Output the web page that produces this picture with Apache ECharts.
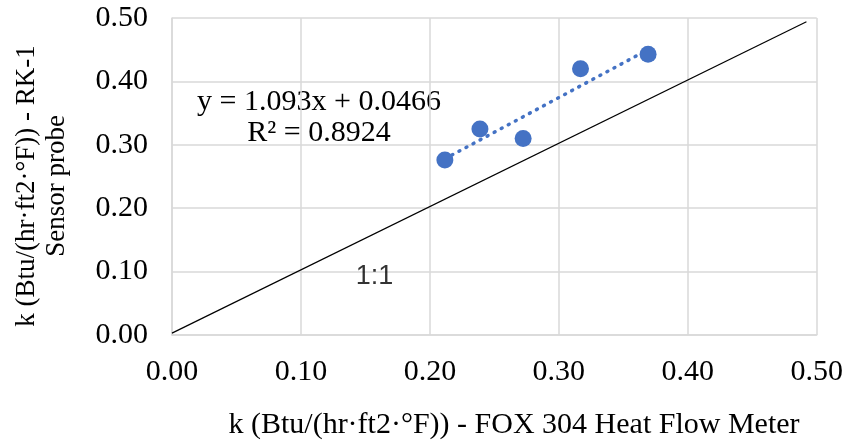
<!DOCTYPE html>
<html><head><meta charset="utf-8">
<script src="https://cdn.jsdelivr.net/npm/echarts@6/dist/echarts.min.js"></script>
<style>html,body{margin:0;padding:0;background:#fff}#c{width:846px;height:444px}</style>
</head><body><div id="c"></div>
<script>
const xValues = [0.2116, 0.2388, 0.2723, 0.3168, 0.3692];
const yValues = [0.276, 0.325, 0.310, 0.420, 0.443];
const oneToOne = [[0, 0.003], [0.492, 0.494]];
const slope = 1.093, intercept = 0.0466;
const equationText = 'y = 1.093x + 0.0466';
const r2Text = 'R² = 0.8924';
const xTitle = 'k (Btu/(hr·ft2·°F)) - FOX 304 Heat Flow Meter';
const yTitle1 = 'k (Btu/(hr·ft2·°F)) - RK-1';
const yTitle2 = 'Sensor probe';
const oneLabel = '1:1';
const oneLabelPos = [0.157, 0.0915];

const pts = xValues.map((x, i) => [x, yValues[i]]);
const xmin = Math.min(...xValues), xmax = Math.max(...xValues);
const trend = [[xmin, slope * xmin + intercept], [xmax, slope * xmax + intercept]];

const serif = '"Liberation Serif", "Times New Roman", serif';
const chart = echarts.init(document.getElementById('c'));
chart.setOption({
  animation: false,
  grid: {left: 172, top: 18, right: 29, bottom: 109},
  xAxis: {type: 'value', min: 0, max: 0.5, interval: 0.1,
    axisLine: {show: true, lineStyle: {color: '#d9d9d9', width: 1.5}},
    axisTick: {show: false},
    splitLine: {show: true, lineStyle: {color: '#d9d9d9', width: 1.5}},
    axisLabel: {formatter: v => v.toFixed(2), color: '#000', fontFamily: serif, fontSize: 30, margin: 22}},
  yAxis: {type: 'value', min: 0, max: 0.5, interval: 0.1,
    axisLine: {show: true, lineStyle: {color: '#d9d9d9', width: 1.5}},
    axisTick: {show: false},
    splitLine: {show: true, lineStyle: {color: '#d9d9d9', width: 1.5}},
    axisLabel: {formatter: v => v.toFixed(2), color: '#000', fontFamily: serif, fontSize: 30, margin: 24}},
  series: [
    {type: 'line', data: oneToOne, symbol: 'none', lineStyle: {color: '#000', width: 1.2}, z: 2},
    {type: 'scatter', data: [oneLabelPos], symbolSize: 0, silent: true, z: 5,
     label: {show: true, position: 'inside', formatter: oneLabel, color: '#000', textBorderWidth: 0,
       fontFamily: '"Liberation Sans", Arial, sans-serif', fontSize: 27}},
    {type: 'line', data: trend, symbol: 'none', lineStyle: {color: '#4472C4', width: 3.5, type: [1, 7], cap: 'round'}, z: 3},
    {type: 'scatter', data: pts, symbolSize: 17, itemStyle: {color: '#4472C4', opacity: 1}, z: 4}
  ],
  graphic: [
    {type: 'text', style: {text: equationText + '\n' + r2Text, font: '30px ' + serif, fill: '#000', align: 'center', verticalAlign: 'middle', lineHeight: 31}, x: 319, y: 118},
    {type: 'text', style: {text: xTitle, font: '30px ' + serif, fill: '#000', align: 'center', verticalAlign: 'middle'}, x: 514, y: 425},
    {type: 'text', style: {text: yTitle1 + '\n' + yTitle2, font: '27px ' + serif, fill: '#000', align: 'center', verticalAlign: 'middle', lineHeight: 30}, x: 42, y: 186, rotation: Math.PI / 2}
  ]
});
</script></body></html>
